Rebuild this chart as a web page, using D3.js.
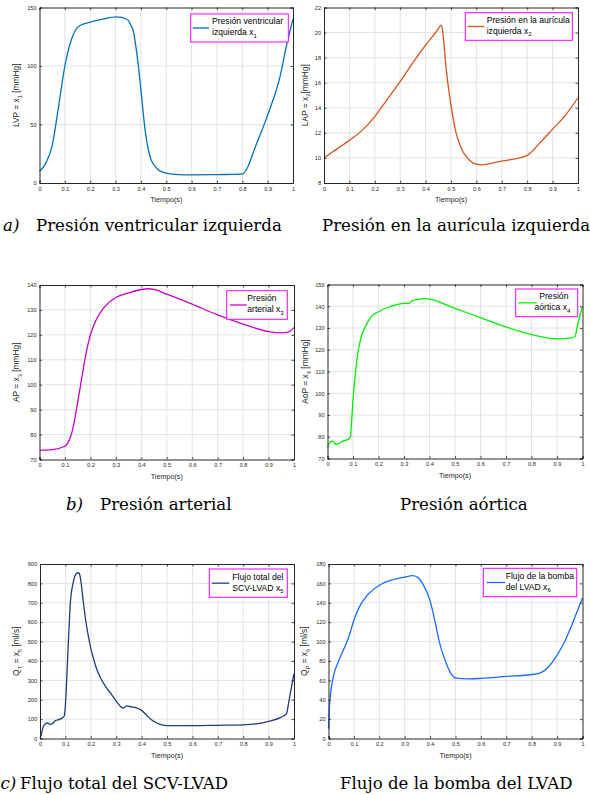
<!DOCTYPE html>
<html>
<head>
<meta charset="utf-8">
<script src="https://cdn.jsdelivr.net/npm/d3@7"></script>
<style>
body { margin: 0; background: #fff; }
svg { display: block; }
.tick text { font-family: "Liberation Sans", Arial, sans-serif; }
</style>
</head>
<body>
<div id="graph"></div>
<script>
// --- datos ---
var tiempo1 = [0,0.025,0.05,0.075,0.1,0.125,0.15,0.175,0.2,0.25,0.3,0.325,0.35,0.36,0.37,0.38,0.39,0.4,0.41,0.42,0.43,0.44,0.45,0.47,0.5,0.55,0.6,0.7,0.8,0.82,0.85,0.9,0.95,0.975,1];
var lvp = [10,17,32,65,100,122,133,136,137.5,140,142,141.5,139,135,130,117,100,80,58,40,28,20,16,11,8.5,7.2,7,7.2,7.5,13,30,58,92,118,140];

var tiempo2 = [0,0.05,0.1,0.15,0.2,0.25,0.3,0.35,0.4,0.45,0.46,0.465,0.47,0.48,0.49,0.5,0.51,0.52,0.54,0.56,0.58,0.6,0.62,0.7,0.8,0.85,0.9,0.95,1];
var lap = [10,10.7,11.4,12.2,13.3,14.7,16.1,17.6,19.0,20.3,20.6,20.4,19.6,17.3,15.6,14.2,13.0,12.0,10.8,10.1,9.7,9.5,9.45,9.75,10.2,11.2,12.3,13.4,14.8];

var tiempo3 = [0,0.05,0.1,0.11,0.12,0.13,0.14,0.15,0.16,0.17,0.18,0.19,0.2,0.22,0.25,0.3,0.35,0.4,0.43,0.45,0.5,0.6,0.7,0.8,0.9,0.95,0.98,1];
var ap = [73.8,74,75.3,76.5,78.5,82,87,93,99,105,111,116,120,125.5,130.5,135,136.8,138.2,138.5,138.2,136.3,132.3,128,124.3,121.3,120.8,121.2,123];

var tiempo4 = [0,0.01,0.02,0.035,0.045,0.06,0.08,0.09,0.095,0.1,0.11,0.12,0.13,0.15,0.17,0.2,0.25,0.3,0.32,0.33,0.35,0.38,0.4,0.5,0.6,0.7,0.8,0.9,0.95,0.97,0.98,1];
var aop = [75,77.5,78,76.5,77,78,78.8,80,88,97,110,119,125,131,135,137.5,140,141.3,141.3,142.5,143,143.5,143.3,139,134.8,130.5,127,125,125.3,126,131,140];

var tiempo5 = [0,0.005,0.01,0.02,0.03,0.04,0.05,0.06,0.08,0.09,0.095,0.1,0.105,0.11,0.115,0.12,0.13,0.14,0.15,0.155,0.16,0.17,0.18,0.19,0.2,0.21,0.22,0.24,0.26,0.28,0.3,0.32,0.33,0.34,0.36,0.38,0.4,0.42,0.44,0.46,0.48,0.5,0.6,0.7,0.8,0.85,0.9,0.95,0.97,0.98,0.99,1];
var qt = [0,20,50,75,80,73,78,92,100,108,115,170,300,450,590,710,800,845,855,850,820,710,610,530,465,415,370,308,265,230,193,162,158,168,163,158,145,120,95,80,70,66,66,68,70,75,88,110,127,193,264,335];

var tiempo6 = [0,0.003,0.01,0.02,0.04,0.06,0.08,0.1,0.12,0.15,0.2,0.25,0.3,0.33,0.35,0.37,0.4,0.42,0.436,0.46,0.48,0.5,0.55,0.6,0.7,0.8,0.83,0.85,0.87,0.9,0.93,0.95,0.97,1];
var qp = [10,30,50,65,80,92,105,122,135,147,158,163.5,166.5,168,166.5,160,142,120,100,80,68,62.5,61.5,62,64,66,67.5,70,75,86,100,112,125,145];

var xTicks = [0,0.1,0.2,0.3,0.4,0.5,0.6,0.7,0.8,0.9,1];
var yTicks1 = [0,50,100,150];
var yTicks2 = [8,10,12,14,16,18,20,22];
var yTicks3 = [70,80,90,100,110,120,130,140];
var yTicks4 = [70,80,90,100,110,120,130,140,150];
var yTicks5 = [0,100,200,300,400,500,600,700,800,900];
var yTicks6 = [0,20,40,60,80,100,120,140,160,180];

var etiquetaX = "Tiempo(s)";
var etiquetasY = [
    [["LVP = x"], ["1", 1], [" [mmHg]"]],
    [["LAP = x"], ["2", 1], ["[mmHg]"]],
    [["AP = x"], ["3", 1], [" [mmHg]"]],
    [["AoP = x"], ["4", 1], [" [mmHg]"]],
    [["Q"], ["T", 1], [" = x"], ["5", 1], [" [ml/s]"]],
    [["Q"], ["P", 1], [" = x"], ["6", 1], [" [ml/s]"]]
];
var leyendas = [
    [[["Presión ventricular"]], [["izquierda x"], ["1", 1]]],
    [[["Presión en la aurícula"]], [["izquierda x"], ["2", 1]]],
    [[["Presión"]], [["arterial x"], ["3", 1]]],
    [[["  Presión"]], [["aórtica x"], ["4", 1]]],
    [[["Flujo total del"]], [["SCV-LVAD x"], ["5", 1]]],
    [[["Flujo de la bomba"]], [["del LVAD x"], ["6", 1]]]
];
var titulos = ["Presión ventricular izquierda", "Presión en la aurícula izquierda",
               "Presión arterial", "Presión aórtica",
               "Flujo total del SCV-LVAD", "Flujo de la bomba del LVAD"];
var letras = ["a)", "b)", "c)"];

// --- maquetacion ---
var width = 590, height = 795;
var series = [
    {t: tiempo1, v: lvp, ticks: yTicks1, color: "#0072bd"},
    {t: tiempo2, v: lap, ticks: yTicks2, color: "#d95319"},
    {t: tiempo3, v: ap,  ticks: yTicks3, color: "#cc00cc"},
    {t: tiempo4, v: aop, ticks: yTicks4, color: "#00f000"},
    {t: tiempo5, v: qt,  ticks: yTicks5, color: "#1f3d7c"},
    {t: tiempo6, v: qp,  ticks: yTicks6, color: "#1a6cff"}
];
var cajas = [
    {x0: 39.5, x1: 293, y0: 7.5, y1: 183, ly: 16},
    {x0: 324, x1: 578, y0: 7.5, y1: 183, ly: 304.5},
    {x0: 39.5, x1: 294, y0: 285, y1: 459.5, ly: 16},
    {x0: 327.5, x1: 582.5, y0: 284.5, y1: 458.5, ly: 305},
    {x0: 40, x1: 294, y0: 564, y1: 738.5, ly: 16},
    {x0: 328.5, x1: 582.5, y0: 564, y1: 738.5, ly: 304}
];
var cajasLeyenda = [
    {x0: 190.7, x1: 288.3, y0: 14, y1: 42, l0: 192.7, l1: 209, tx: 212},
    {x0: 465.3, x1: 572.3, y0: 12.7, y1: 40.3, l0: 467.3, l1: 484.3, tx: 486.7},
    {x0: 226.7, x1: 287.3, y0: 290.7, y1: 319.3, l0: 230, l1: 246.7, tx: 247.3},
    {x0: 515.7, x1: 577.7, y0: 289, y1: 316.7, l0: 518.3, l1: 536.7, tx: 534.5},
    {x0: 209.3, x1: 287.3, y0: 569, y1: 597.3, l0: 211.7, l1: 229.3, tx: 232.3},
    {x0: 483.3, x1: 576.7, y0: 568.3, y1: 596.7, l0: 486.7, l1: 505, tx: 505.7}
];
var posTitulos = [
    {x: 36, y: 231}, {x: 322, y: 231},
    {x: 100, y: 510}, {x: 400, y: 510},
    {x: 20, y: 789}, {x: 340, y: 789}
];
var posLetras = [{x: 3, y: 231}, {x: 66, y: 510}, {x: 0.5, y: 789}];

var sans = "'Liberation Sans', Arial, Helvetica, sans-serif";
var serif = "'DejaVu Serif', serif";

var svg = d3.select("#graph").append("svg")
    .attr("width", width).attr("height", height);

function textoRico(sel, partes, subSize) {
    var enSub = false;
    partes.forEach(function(p) {
        var ts = sel.append("tspan").text(p[0]).style("white-space", "pre");
        if (p[1] && !enSub) { ts.attr("dy", 2.5).attr("font-size", subSize); enSub = true; }
        else if (!p[1] && enSub) { ts.attr("dy", -2.5); enSub = false; }
    });
}

series.forEach(function(s, i) {
    var c = cajas[i];
    var xScale = d3.scaleLinear().domain([0, 1]).range([c.x0, c.x1]);
    var yScale = d3.scaleLinear().domain(d3.extent(s.ticks)).range([c.y1, c.y0]);
    var g = svg.append("g");

    // rejilla
    g.append("g").selectAll("line").data(xTicks.slice(1, -1)).enter().append("line")
        .attr("x1", function(d) { return xScale(d); }).attr("x2", function(d) { return xScale(d); })
        .attr("y1", c.y0).attr("y2", c.y1)
        .attr("stroke", "#e3e3e3").attr("stroke-width", 1);
    g.append("g").selectAll("line").data(s.ticks.slice(1, -1)).enter().append("line")
        .attr("y1", function(d) { return yScale(d); }).attr("y2", function(d) { return yScale(d); })
        .attr("x1", c.x0).attr("x2", c.x1)
        .attr("stroke", "#e3e3e3").attr("stroke-width", 1);

    // curva
    var linea = d3.line()
        .x(function(d, k) { return xScale(s.t[k]); })
        .y(function(d) { return yScale(d); })
        .curve(d3.curveMonotoneX);
    g.append("path").datum(s.v)
        .attr("d", linea)
        .attr("fill", "none")
        .attr("stroke", s.color)
        .attr("stroke-width", 1.3);

    // ejes estilo matlab
    var ejeX = d3.axisBottom(xScale).tickValues(xTicks).tickSize(-2.5).tickPadding(4)
        .tickFormat(function(d) { return d3.format("")(d); });
    var ejeY = d3.axisLeft(yScale).tickValues(s.ticks).tickSize(-2.5).tickPadding(3);
    var ejeXt = d3.axisTop(xScale).tickValues(xTicks).tickSize(-2.5).tickFormat("");
    var ejeYr = d3.axisRight(yScale).tickValues(s.ticks).tickSize(-2.5).tickFormat("");

    [
        g.append("g").attr("transform", "translate(0," + c.y1 + ")").call(ejeX),
        g.append("g").attr("transform", "translate(" + c.x0 + ",0)").call(ejeY),
        g.append("g").attr("transform", "translate(0," + c.y0 + ")").call(ejeXt),
        g.append("g").attr("transform", "translate(" + c.x1 + ",0)").call(ejeYr)
    ].forEach(function(a) {
        a.select(".domain").attr("stroke", "#262626").attr("stroke-width", 1);
        a.selectAll(".tick line").attr("stroke", "#262626").attr("stroke-width", 0.8);
        a.selectAll(".tick text").attr("fill", "#262626").attr("font-size", 5.6);
    });

    // etiquetas de ejes
    g.append("text")
        .attr("x", (c.x0 + c.x1) / 2).attr("y", c.y1 + 19)
        .attr("text-anchor", "middle")
        .attr("font-family", sans).attr("font-size", 7.2).attr("fill", "#262626")
        .text(etiquetaX);
    var yl = g.append("text")
        .attr("transform", "translate(" + (c.ly + 3) + "," + ((c.y0 + c.y1) / 2) + ") rotate(-90)")
        .attr("text-anchor", "middle")
        .attr("font-family", sans).attr("font-size", 8.4).attr("fill", "#262626");
    textoRico(yl, etiquetasY[i], 5.8);

    // leyenda
    var L = cajasLeyenda[i];
    g.append("rect")
        .attr("x", L.x0).attr("y", L.y0)
        .attr("width", L.x1 - L.x0).attr("height", L.y1 - L.y0)
        .attr("fill", "#fff").attr("stroke", "#ff00ff").attr("stroke-width", 1);
    var ym = (L.y0 + L.y1) / 2;
    g.append("line")
        .attr("x1", L.l0).attr("x2", L.l1).attr("y1", ym).attr("y2", ym)
        .attr("stroke", s.color).attr("stroke-width", 1.3);
    leyendas[i].forEach(function(lineaTexto, k) {
        var t = g.append("text")
            .attr("x", L.tx).attr("y", ym - 3.6 + k * 11)
            .attr("font-family", sans).attr("font-size", 8.6).attr("fill", "#000")
            .style("white-space", "pre");
        textoRico(t, lineaTexto, 6);
    });
});

// pies de figura
var cap = svg.append("g");
var tam = 14.5;
var prueba = cap.append("text").attr("font-family", serif).attr("font-size", tam).text(titulos[0]);
tam = tam * 246 / prueba.node().getComputedTextLength();
prueba.remove();
titulos.forEach(function(t, i) {
    cap.append("text")
        .attr("x", posTitulos[i].x).attr("y", posTitulos[i].y)
        .attr("font-family", serif).attr("font-size", tam).attr("fill", "#000")
        .text(t);
});
letras.forEach(function(l, i) {
    cap.append("text")
        .attr("x", posLetras[i].x).attr("y", posLetras[i].y)
        .attr("font-family", serif).attr("font-style", "italic")
        .attr("font-size", tam).attr("fill", "#000")
        .text(l);
});
</script>
</body>
</html>
